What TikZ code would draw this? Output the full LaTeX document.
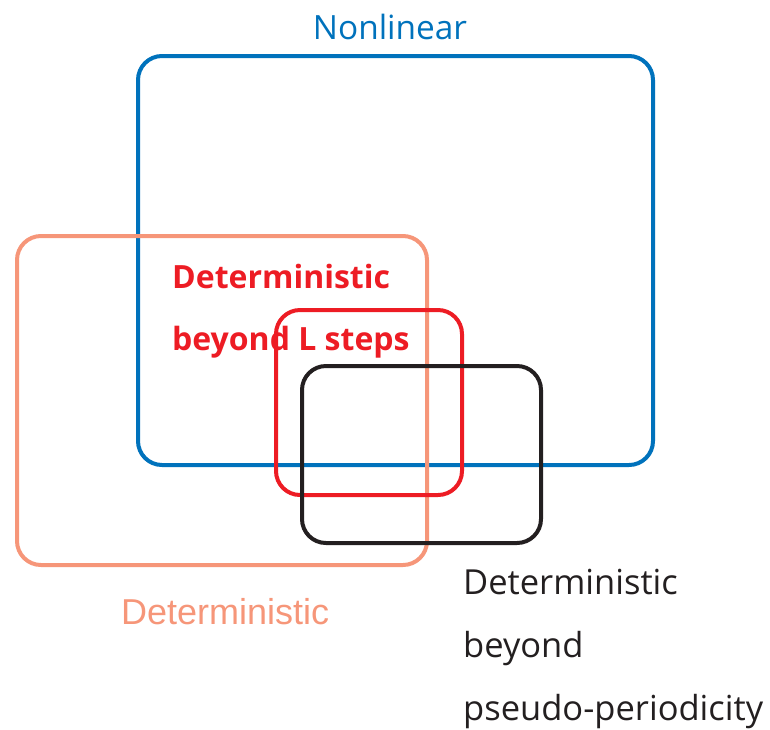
\documentclass[tikz,border=0pt]{standalone}
\usepackage{fontspec}
\setmainfont{Open Sans}
\newfontfamily\arialfont{Liberation Sans}
\definecolor{cblue}{RGB}{0,114,188}
\definecolor{csalmon}{RGB}{246,150,121}
\definecolor{cred}{RGB}{237,28,36}
\definecolor{cblack}{RGB}{35,31,32}
\begin{document}
\begin{tikzpicture}[x=1pt,y=-1pt,
  setbox/.style={draw, line width=4pt, rounded corners=24pt, rectangle, inner sep=0pt},
  lbl/.style={inner sep=0pt, anchor=base west}]
\useasboundingbox (0,0) rectangle (770,729);
\node[setbox, cblue, minimum width=515pt, minimum height=409pt] (nonlin) at (395.5,260.5) {};
\node[setbox, csalmon, minimum width=410pt, minimum height=329pt] (det) at (222,400.5) {};
\node[setbox, cred, minimum width=186pt, minimum height=185pt] (detL) at (369,402.5) {};
\node[setbox, cblack, minimum width=239pt, minimum height=177pt] (detP) at (421.5,454.5) {};
\node[inner sep=0pt, anchor=base, text=cblue, font=\fontsize{33.4}{40}\selectfont] (tnonlin) at (390,39) {Nonlinear};
\node[lbl, text=csalmon, font=\arialfont\fontsize{36}{40}\selectfont] (tdet) at (121,624) {Deterministic};
\node[lbl, text=cred, font=\bfseries\fontsize{32}{40}\selectfont] (tdetL1) at (172,288) {Deterministic};
\node[lbl, text=cred, font=\bfseries\fontsize{32}{40}\selectfont] (tdetL2) at (172,350) {beyond L steps};
\node[lbl, text=cblack, font=\fontsize{34.5}{40}\selectfont] (tdetP1) at (463,594) {Deterministic};
\node[lbl, text=cblack, font=\fontsize{34.5}{40}\selectfont] (tdetP2) at (463,657) {beyond};
\node[lbl, text=cblack, font=\fontsize{34.5}{40}\selectfont] (tdetP3) at (463,720) {pseudo-periodicity};
\end{tikzpicture}
\end{document}
